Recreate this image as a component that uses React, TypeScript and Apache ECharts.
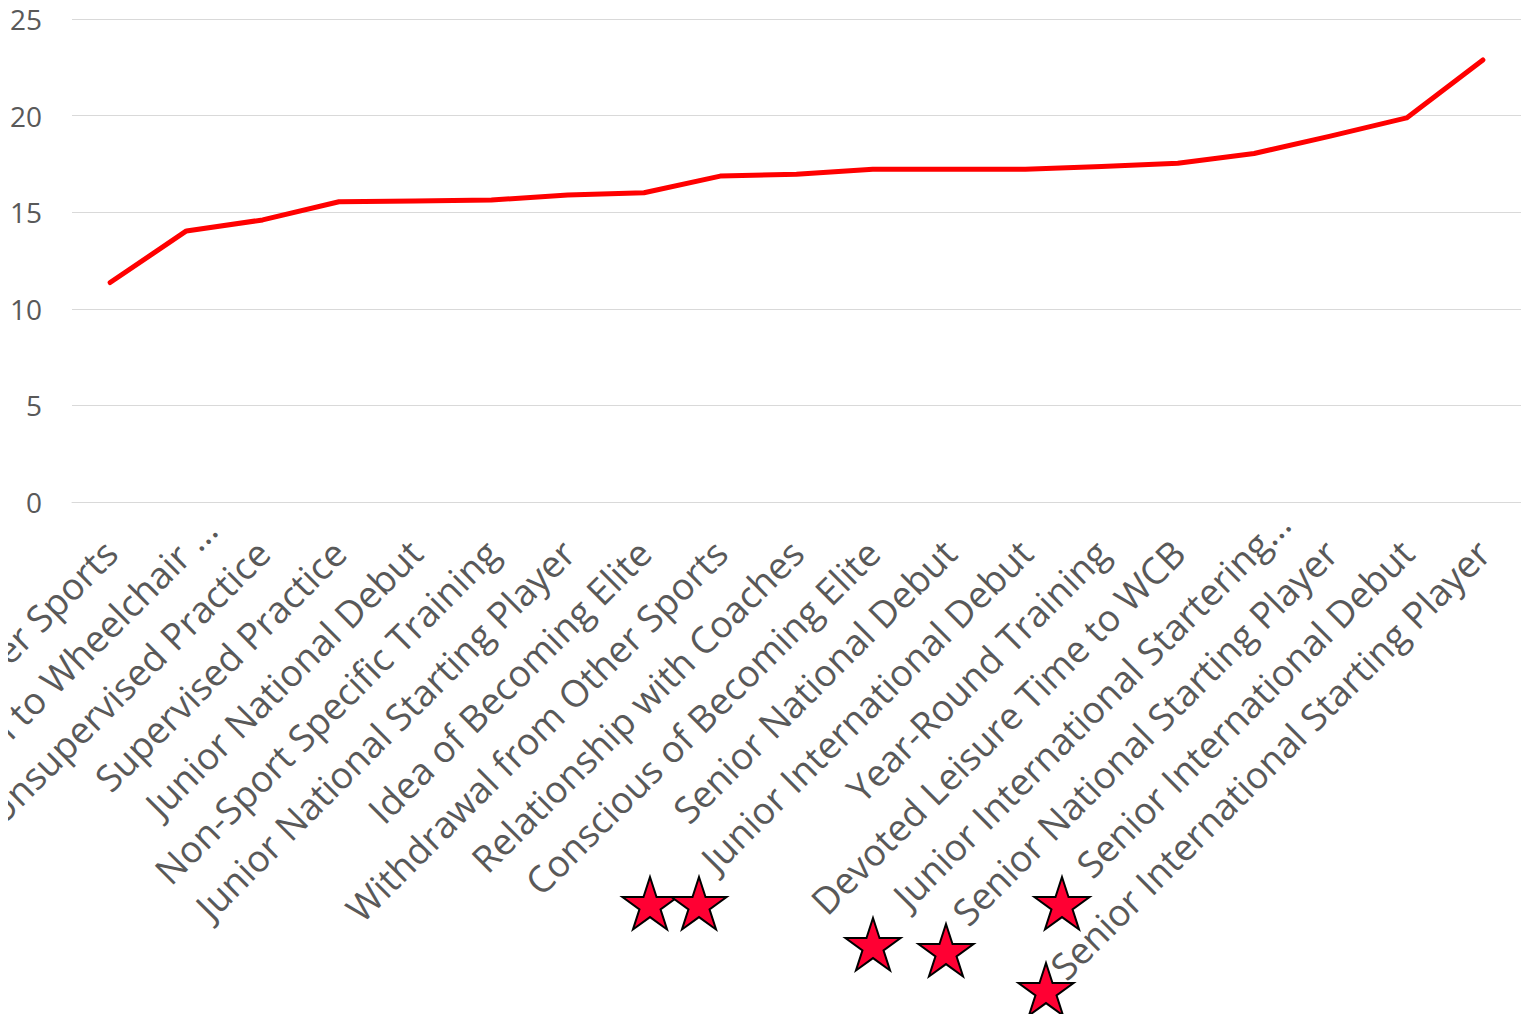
import React, { useEffect, useRef } from "react";
import * as echarts from "echarts";

const categories: string[] = [
  "Introduction to Other Sports",
  "Introduction to Wheelchair …",
  "Unsupervised Practice",
  "Supervised Practice",
  "Junior National Debut",
  "Non-Sport Specific Training",
  "Junior National Starting Player",
  "Idea of Becoming Elite",
  "Withdrawal from Other Sports",
  "Relationship with Coaches",
  "Conscious of Becoming Elite",
  "Senior National Debut",
  "Junior International Debut",
  "Year-Round Training",
  "Devoted Leisure Time to WCB",
  "Junior International Startering…",
  "Senior National Starting Player",
  "Senior International Debut",
  "Senior International Starting Player",
];

// truncated labels sit a little further along their baseline in the original
const truncatedLabelShift: Record<number, number> = { 1: 33, 15: 41 };

const ageValues: number[] = [
  11.36, 14.03, 14.6, 15.54, 15.58, 15.63, 15.89, 16.01, 16.87, 16.96, 17.22,
  17.22, 17.22, 17.37, 17.53, 18.04, 18.94, 19.88, 22.88,
];

const yTicks = { min: 0, max: 25, interval: 5 };

// annotation stars (pixel positions on the canvas)
const starPositions: [number, number][] = [
  [650, 906],
  [699, 906],
  [873, 947],
  [946, 953],
  [1062, 906],
  [1046, 992],
];

function starPoints(R: number): number[][] {
  const r = R * 0.382;
  const pts: number[][] = [];
  for (let i = 0; i < 10; i++) {
    const rad = i % 2 === 0 ? R : r;
    const a = -Math.PI / 2 + (i * Math.PI) / 5;
    pts.push([rad * Math.cos(a), rad * Math.sin(a)]);
  }
  return pts;
}

export default function App() {
  const ref = useRef<HTMLDivElement>(null);
  useEffect(() => {
    if (!ref.current) return;
    const chart = echarts.init(ref.current, undefined, { renderer: "svg" });
    const pts = starPoints(29);
    const catData = categories.map((c, i) =>
      truncatedLabelShift[i]
        ? { value: c, textStyle: { padding: [0, -truncatedLabelShift[i], 0, 0] } }
        : c
    );
    chart.setOption({
      animation: false,
      backgroundColor: "#ffffff",
      grid: {
        left: 72,
        right: 8,
        top: 19,
        bottom: 520,
        containLabel: false,
        outerBoundsMode: "none",
      },
      xAxis: {
        type: "category",
        data: catData,
        boundaryGap: true,
        axisLine: { show: true, lineStyle: { color: "#d9d9d9", width: 1 } },
        axisTick: { show: false },
        axisLabel: {
          interval: 0,
          rotate: 45,
          margin: 44,
          fontFamily: "Open Sans",
          fontSize: 37,
          color: "#595959",
          hideOverlap: false,
        },
      },
      yAxis: {
        type: "value",
        min: yTicks.min,
        max: yTicks.max,
        interval: yTicks.interval,
        axisLine: { show: false },
        axisTick: { show: false },
        splitLine: { lineStyle: { color: "#d9d9d9", width: 1 } },
        axisLabel: {
          margin: 30,
          fontFamily: "Open Sans",
          fontSize: 28,
          color: "#595959",
        },
      },
      series: [
        {
          type: "line",
          data: ageValues,
          symbol: "none",
          lineStyle: { color: "#ff0000", width: 5, cap: "round", join: "round" },
        },
      ],
      graphic: starPositions.map(([x, y]) => ({
        type: "polygon",
        x,
        y,
        z: 100,
        shape: { points: pts },
        style: { fill: "#ff0033", stroke: "#000000", lineWidth: 2 },
      })),
    });
    return () => chart.dispose();
  }, []);
  return <div ref={ref} style={{ width: 1529, height: 1022, margin: -8 }} />;
}
